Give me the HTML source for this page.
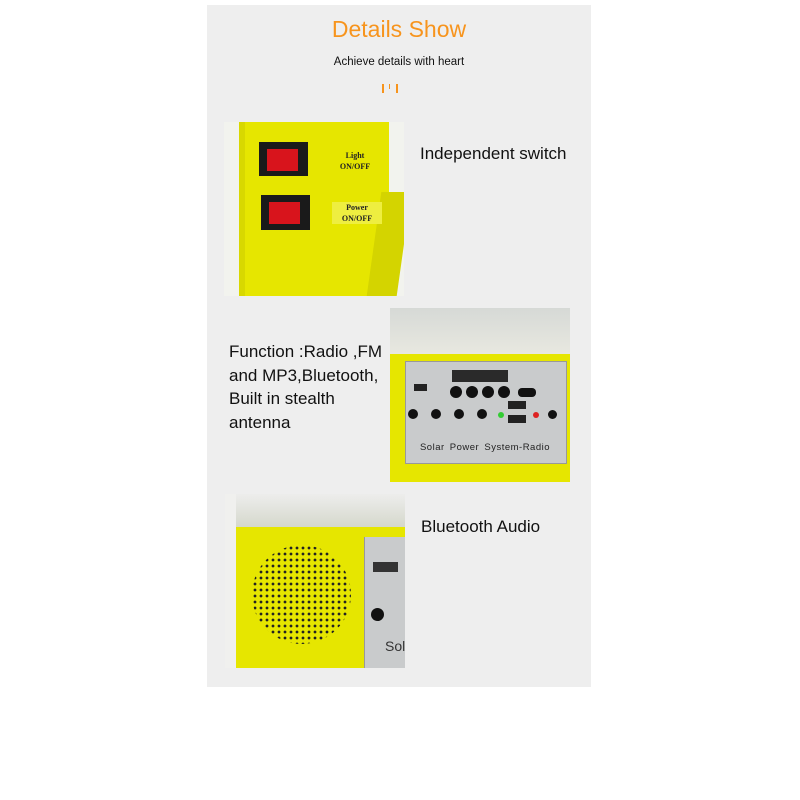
<!DOCTYPE html>
<html><head><style>
body{margin:0;width:800px;height:800px;background:#fff;position:relative;font-family:"Liberation Sans",sans-serif;overflow:hidden}
.a{position:absolute}
.t{color:#111;font-size:17px;line-height:23.5px}
</style></head><body>
<div class="a" style="left:207px;top:5px;width:384px;height:682px;background:#eeeeee"></div>
<div class="a" style="left:207px;top:16px;width:384px;text-align:center;color:#f7941d;font-size:23px">Details Show</div>
<div class="a" style="left:207px;top:56px;width:384px;text-align:center;color:#111;font-size:11.5px">Achieve details with heart</div>
<div class="a" style="left:382px;top:84px;width:2px;height:9px;background:#f7941d"></div>
<div class="a" style="left:389px;top:84px;width:1px;height:5px;background:#f7941d"></div>
<div class="a" style="left:396px;top:84px;width:2px;height:9px;background:#f7941d"></div>

<!-- image 1 -->
<div class="a" style="left:224px;top:122px;width:180px;height:174px;background:#f2f3ee;overflow:hidden">
 <div class="a" style="left:15px;top:0;width:150px;height:174px;background:#e6e600"></div>
 <div class="a" style="left:150px;top:70px;width:30px;height:104px;background:#d4d400;transform:skewX(-8deg)"></div>
 <div class="a" style="left:15px;top:0;width:6px;height:174px;background:#d8d800"></div>
 <div class="a" style="left:35px;top:20px;width:49px;height:34px;background:#1a1a1a"></div>
 <div class="a" style="left:43px;top:27px;width:31px;height:22px;background:#d8141c"></div>
 <div class="a" style="left:37px;top:73px;width:49px;height:35px;background:#1a1a1a"></div>
 <div class="a" style="left:45px;top:80px;width:31px;height:22px;background:#d8141c"></div>
 <div class="a" style="left:106px;top:28px;width:50px;text-align:center;font:bold 8px 'Liberation Serif',serif;line-height:11px;color:#222">Light<br>ON/OFF</div>
 <div class="a" style="left:108px;top:80px;width:50px;text-align:center;font:bold 8px 'Liberation Serif',serif;line-height:11px;color:#222;background:#eeee40">Power<br>ON/OFF</div>
</div>
<div class="a t" style="left:420px;top:142px">Independent switch</div>

<!-- image 2 -->
<div class="a" style="left:390px;top:308px;width:180px;height:174px;background:#e6e600;overflow:hidden">
 <div class="a" style="left:0;top:0;width:180px;height:46px;background:linear-gradient(#d6d9d6,#e8e8e0)"></div>
 <div class="a" style="left:15px;top:53px;width:160px;height:101px;background:#c9cbcc;border:1px solid #999"></div>
 <div class="a" style="left:62px;top:62px;width:56px;height:12px;background:#2a2a2a"></div>
 <div class="a" style="left:60px;top:78px;width:12px;height:12px;border-radius:50%;background:#111;box-shadow:16px 0 #111,32px 0 #111,48px 0 #111"></div>
 <div class="a" style="left:128px;top:80px;width:18px;height:9px;border-radius:4px;background:#111"></div>
 <div class="a" style="left:24px;top:76px;width:13px;height:7px;background:#222"></div>
 <div class="a" style="left:18px;top:101px;width:10px;height:10px;border-radius:50%;background:#111;box-shadow:23px 0 #111,46px 0 #111,69px 0 #111"></div>
 <div class="a" style="left:118px;top:93px;width:18px;height:8px;background:#222;box-shadow:0 14px #222"></div>
 <div class="a" style="left:108px;top:104px;width:6px;height:6px;border-radius:50%;background:#3c3"></div>
 <div class="a" style="left:143px;top:104px;width:6px;height:6px;border-radius:50%;background:#d22"></div>
 <div class="a" style="left:158px;top:102px;width:9px;height:9px;border-radius:50%;background:#111"></div>
 <div class="a" style="left:15px;top:134px;width:160px;text-align:center;font-size:9.5px;color:#222;letter-spacing:.5px;word-spacing:2px">Solar Power System-Radio</div>
</div>
<div class="a t" style="left:229px;top:340px">Function :Radio ,FM<br>and MP3,Bluetooth,<br>Built in stealth<br>antenna</div>

<!-- image 3 -->
<div class="a" style="left:225px;top:494px;width:180px;height:174px;background:#f0f0ee;overflow:hidden">
 <div class="a" style="left:11px;top:0;width:169px;height:33px;background:linear-gradient(#ededec,#d5d8cc)"></div>
 <div class="a" style="left:11px;top:33px;width:169px;height:141px;background:#e6e600"></div>
 <div class="a" style="left:27px;top:51px;width:99px;height:99px;border-radius:50%;background:radial-gradient(circle,#222 1.2px,transparent 1.6px) 0 0/6px 6px"></div>
 <div class="a" style="left:139px;top:43px;width:41px;height:131px;background:#c9cbcc;border-left:1px solid #999"></div>
 <div class="a" style="left:148px;top:68px;width:25px;height:10px;background:#333"></div>
 <div class="a" style="left:146px;top:114px;width:13px;height:13px;border-radius:50%;background:#111"></div>
 <div class="a" style="left:160px;top:144px;font-size:14px;color:#333">Sol</div>
</div>
<div class="a t" style="left:421px;top:515px">Bluetooth Audio</div>
</body></html>
